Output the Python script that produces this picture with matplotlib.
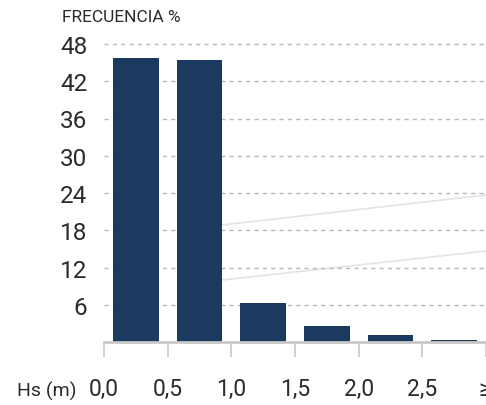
import matplotlib
matplotlib.use("Agg")
import matplotlib.pyplot as plt
import matplotlib.transforms as mtransforms
from matplotlib.lines import Line2D

categories = ["0,0", "0,5", "1,0", "1,5", "2,0", "2,5", "≥3,0"]
frecuencia = [45.7, 45.4, 6.3, 2.6, 1.1, 0.3]
y_ticks = [6, 12, 18, 24, 30, 36, 42, 48]

BAR = "#1b3a5f"
GRID = "#b9b9b9"
TXT = "#2b2b2b"
FONT = "Roboto"

fig = plt.figure(figsize=(4.86, 4.06), dpi=100)
fig.patch.set_facecolor("white")

# faint decorative background strokes
for (x0, y0, x1, y1) in [(222, 226, 486, 196), (222, 281, 486, 252)]:
    fig.add_artist(Line2D([x0 / 486, x1 / 486], [1 - y0 / 406, 1 - y1 / 406],
                          transform=fig.transFigure, color="#e9e4e4", lw=1.3, zorder=0))

ax = fig.add_axes([104 / 486, 63 / 406, 382 / 486, 298 / 406])
ax.set_facecolor("none")

xs = [i + 0.5 for i in range(len(frecuencia))]
ax.bar(xs, frecuencia, width=0.72, color=BAR, zorder=3)

ax.set_xlim(0, 6)
ax.set_ylim(0, 48)

for v in y_ticks:
    ax.axhline(v, color=GRID, lw=1.0, ls=(0, (3, 3)), zorder=1, clip_on=False)

ax.set_yticks(y_ticks)
ax.set_yticklabels([str(v) for v in y_ticks], fontsize=17.5, color=TXT, family=FONT)
ax.tick_params(axis="y", length=0, pad=12)

ax.set_xticks(range(len(categories)))
ax.set_xticklabels(categories, fontsize=16.5, color=TXT, family=FONT)
ax.tick_params(axis="x", length=11, width=1.2, color="#c8c8c8", pad=14)
lab = ax.get_xticklabels()[-1]
lab.set_transform(lab.get_transform() + mtransforms.ScaledTranslation(14 / 100, 0, fig.dpi_scale_trans))

for s in ["top", "right", "left"]:
    ax.spines[s].set_visible(False)
ax.spines["bottom"].set_color("#c8c8c8")
ax.spines["bottom"].set_linewidth(2)
ax.spines["bottom"].set_zorder(4)

fig.text(17 / 486, 1 - 391 / 406, "Hs (m)", fontsize=14, color=TXT, family=FONT,
         ha="left", va="center")
fig.text(62 / 486, 1 - 17 / 406, "FRECUENCIA %", fontsize=12.5, color=TXT,
         family=FONT, ha="left", va="center")

fig.savefig("out.png", dpi=100)
